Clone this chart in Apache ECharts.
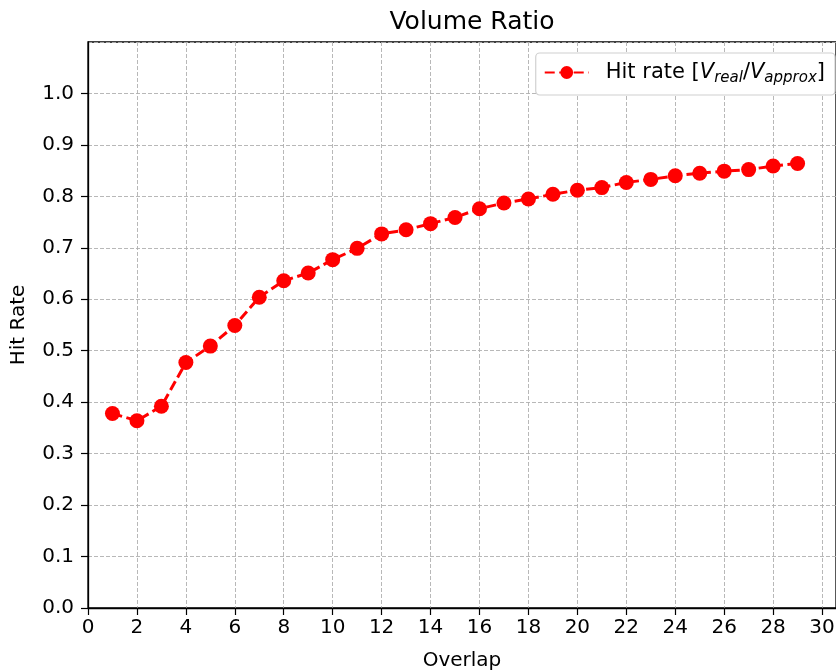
<!DOCTYPE html>
<html>
<head>
<meta charset="utf-8">
<script src="https://cdn.jsdelivr.net/npm/echarts@6/dist/echarts.min.js"></script>
<style>
  html, body { margin: 0; padding: 0; background: #fff; }
  #chart { width: 836px; height: 670px; }
</style>
</head>
<body>
<div id="chart"></div>
<script>
// overlap values on the x axis
var overlap = [1, 2, 3, 4, 5, 6, 7, 8, 9, 10, 11, 12, 13, 14, 15, 16, 17, 18, 19, 20, 21, 22, 23, 24, 25, 26, 27, 28, 29];
// hit rate
var hitRate = [0.378, 0.364, 0.392, 0.477, 0.509, 0.549, 0.604, 0.636, 0.651, 0.677, 0.699, 0.727, 0.735, 0.747, 0.759, 0.776, 0.787, 0.795, 0.804, 0.812, 0.817, 0.827, 0.833, 0.840, 0.845, 0.849, 0.852, 0.859, 0.864];
var yTicks = ['0.0','0.1','0.2','0.3','0.4','0.5','0.6','0.7','0.8','0.9','1.0'];

var points = overlap.map(function (x, i) { return [x, hitRate[i]]; });
var font = 'DejaVu Sans';

var chart = echarts.init(document.getElementById('chart'));
chart.setOption({
  animation: false,
  textStyle: { fontFamily: font },
  title: {
    text: 'Volume Ratio',
    left: 467, top: 5, textAlign: 'center',
    textStyle: { fontFamily: font, fontSize: 25, fontWeight: 'normal', color: '#000' }
  },
  grid: {
    left: 88, right: 0, top: 42, bottom: 62,
    outerBoundsMode: 'none',
    show: true, borderColor: '#000', borderWidth: 1.3
  },
  legend: {
    right: 1, top: 53,
    padding: [9, 10, 9, 8],
    borderColor: '#d0d0d0', borderWidth: 1.2, borderRadius: 4,
    backgroundColor: '#fff',
    itemWidth: 44, itemHeight: 16, itemGap: 10,
    formatter: function () { return '{p|}{t|Hit rate [}{v|V}{s|real}{t|/}{v|V}{s|approx}{t|]}'; },
    textStyle: {
      fontFamily: font, color: '#000',
      rich: {
        p: { width: 12 },
        t: { fontSize: 21, fontFamily: font, color: '#000' },
        v: { fontSize: 21, fontFamily: font, fontStyle: 'italic', color: '#000' },
        s: { fontSize: 15, fontFamily: font, fontStyle: 'italic', color: '#000', padding: [12, 0, 0, 0] }
      }
    },
    data: ['hit']
  },
  xAxis: {
    type: 'value', min: 0, max: 30.57, interval: 2,
    name: 'Overlap', nameLocation: 'middle', nameGap: 43,
    nameTextStyle: { fontFamily: font, fontSize: 20, color: '#000' },
    axisLine: { show: true, lineStyle: { color: '#000', width: 1.3 } },
    axisTick: { show: true, length: 7, lineStyle: { color: '#000', width: 1.2 } },
    axisLabel: {
      fontFamily: font, fontSize: 20, color: '#000', margin: 10, showMaxLabel: false,
      formatter: function (v) { return v % 2 === 0 ? String(v) : ''; }
    },
    splitLine: { show: true, lineStyle: { color: '#b0b0b0', width: 0.9, type: [4, 2] } }
  },
  yAxis: {
    type: 'value', min: 0, max: 1.1, interval: 0.1,
    name: 'Hit Rate', nameLocation: 'middle', nameGap: 59, nameRotate: 90,
    nameTextStyle: { fontFamily: font, fontSize: 20, color: '#000' },
    axisLine: { show: true, lineStyle: { color: '#000', width: 1.3 } },
    axisTick: { show: true, length: 7, lineStyle: { color: '#000', width: 1.2 } },
    axisLabel: {
      fontFamily: font, fontSize: 20, color: '#000', margin: 14, showMaxLabel: false,
      formatter: function (v) {
        var i = Math.round(v * 10);
        return i < yTicks.length ? yTicks[i] : '';
      }
    },
    splitLine: { show: true, lineStyle: { color: '#b0b0b0', width: 0.9, type: [4, 2] } }
  },
  series: [{
    name: 'hit',
    type: 'line',
    data: points,
    symbol: 'circle',
    symbolSize: 15,
    itemStyle: { color: '#ff0000' },
    lineStyle: { color: '#ff0000', width: 3, type: [10, 4.5] }
  }]
});
</script>
</body>
</html>
